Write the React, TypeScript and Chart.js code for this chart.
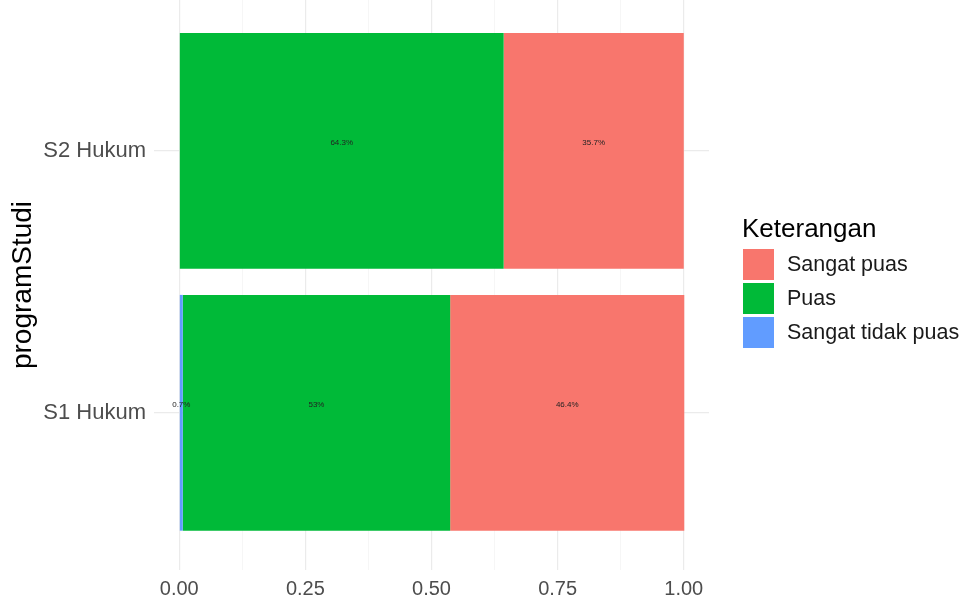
import React, { useEffect, useRef } from "react";
import { Chart, registerables } from "chart.js";

Chart.register(...registerables);

const categories = ["S1 Hukum", "S2 Hukum"];
const categoryPositions = [1, 2];
const seriesNames = ["Sangat tidak puas", "Puas", "Sangat puas"];
const seriesColors = ["#619CFF", "#00BA38", "#F8766D"];
const sangatTidakPuas = [0.007, 0];
const puas = [0.53, 0.643];
const sangatPuas = [0.464, 0.357];
const xTickValues = [0, 0.125, 0.25, 0.375, 0.5, 0.625, 0.75, 0.875, 1];
const legendTitle = "Keterangan";
const yAxisTitle = "programStudi";

const FONT = '"Liberation Sans", Arial, sans-serif';

const seriesValues = [sangatTidakPuas, puas, sangatPuas];

const isMajor = (v: number) => Math.abs(v * 4 - Math.round(v * 4)) < 1e-6;

const labelPlugin = {
  id: "segLabels",
  afterDatasetsDraw(chart: any) {
    const ctx = chart.ctx;
    ctx.save();
    ctx.font = `8px ${FONT}`;
    ctx.fillStyle = "#222";
    ctx.textAlign = "center";
    ctx.textBaseline = "middle";
    chart.data.datasets.forEach((ds: any, di: number) => {
      const meta = chart.getDatasetMeta(di);
      meta.data.forEach((el: any, i: number) => {
        const v = ds.data[i].x;
        if (!v) return;
        const props = el.getProps(["x", "y", "base"], true);
        const cx = (props.x + props.base) / 2;
        const txt = String(Math.round(v * 1000) / 10) + "%";
        ctx.fillText(txt, cx, props.y - 8);
      });
    });
    ctx.restore();
  },
};

const legendPlugin = {
  id: "customLegend",
  afterDraw(chart: any) {
    const ctx = chart.ctx;
    ctx.save();
    ctx.fillStyle = "#000";
    ctx.font = `26px ${FONT}`;
    ctx.textAlign = "left";
    ctx.textBaseline = "alphabetic";
    ctx.fillText(legendTitle, 742, 237);
    const order = [2, 1, 0];
    ctx.font = `21.5px ${FONT}`;
    ctx.textBaseline = "middle";
    order.forEach((si, k) => {
      const top = 249 + k * 34;
      ctx.fillStyle = seriesColors[si];
      ctx.fillRect(743, top, 31, 31);
      ctx.fillStyle = "#1A1A1A";
      ctx.fillText(seriesNames[si], 787, top + 16);
    });
    ctx.restore();
  },
};

export default function App() {
  const ref = useRef<HTMLCanvasElement>(null);
  useEffect(() => {
    if (!ref.current) return;
    const datasets = seriesNames.map((name, si) => ({
      label: name,
      data: categoryPositions.map((p, i) => ({ x: seriesValues[si][i], y: p })),
      backgroundColor: seriesColors[si],
      borderWidth: 0,
      barPercentage: 1,
      categoryPercentage: 0.9,
    }));
    const chart = new Chart(ref.current, {
      type: "bar",
      data: { datasets },
      plugins: [labelPlugin, legendPlugin],
      options: {
        animation: false,
        responsive: false,
        indexAxis: "y",
        layout: { padding: { left: 0, right: 252, top: 0, bottom: 0 } },
        plugins: { legend: { display: false }, tooltip: { enabled: false } },
        scales: {
          x: {
            type: "linear",
            stacked: true,
            offset: false,
            min: -0.05,
            max: 1.05,
            afterBuildTicks: (s: any) => {
              s.ticks = xTickValues.map((v) => ({ value: v }));
            },
            afterFit: (s: any) => {
              s.height = 29;
              s.paddingLeft = 0;
              s.paddingRight = 0;
            },
            border: { display: false },
            grid: {
              offset: false,
              drawTicks: false,
              color: (c: any) => (isMajor(c.tick.value) ? "#EBEBEB" : "#F4F4F4"),
              lineWidth: (c: any) => (isMajor(c.tick.value) ? 1.2 : 0.8),
            },
            ticks: {
              padding: 7,
              autoSkip: false,
              maxRotation: 0,
              color: "#4D4D4D",
              font: { family: FONT, size: 20 },
              callback: (v: any) => (isMajor(Number(v)) ? Number(v).toFixed(2) : ""),
            },
          },
          y: {
            type: "linear",
            stacked: true,
            offset: false,
            min: 0.4,
            max: 2.5756,
            afterBuildTicks: (s: any) => {
              s.ticks = categoryPositions.map((v) => ({ value: v }));
            },
            afterFit: (s: any) => {
              s.width = 154;
              s.paddingTop = 0;
              s.paddingBottom = 0;
            },
            border: { display: false },
            grid: { offset: false, drawTicks: false, color: "#EBEBEB", lineWidth: 1.2 },
            ticks: {
              padding: 8,
              color: "#4D4D4D",
              font: { family: FONT, size: 22 },
              callback: (v: any) => categories[categoryPositions.indexOf(Number(v))] ?? "",
            },
            title: {
              display: true,
              text: yAxisTitle,
              color: "#000",
              font: { family: FONT, size: 28 },
              padding: { top: 6, bottom: 0 },
            },
          },
        },
      } as any,
    });
    return () => chart.destroy();
  }, []);
  return (
    <div style={{ position: "absolute", left: 0, top: 0, width: 961, height: 599, background: "#fff" }}>
      <canvas ref={ref} width={961} height={599} style={{ display: "block" }} />
    </div>
  );
}
